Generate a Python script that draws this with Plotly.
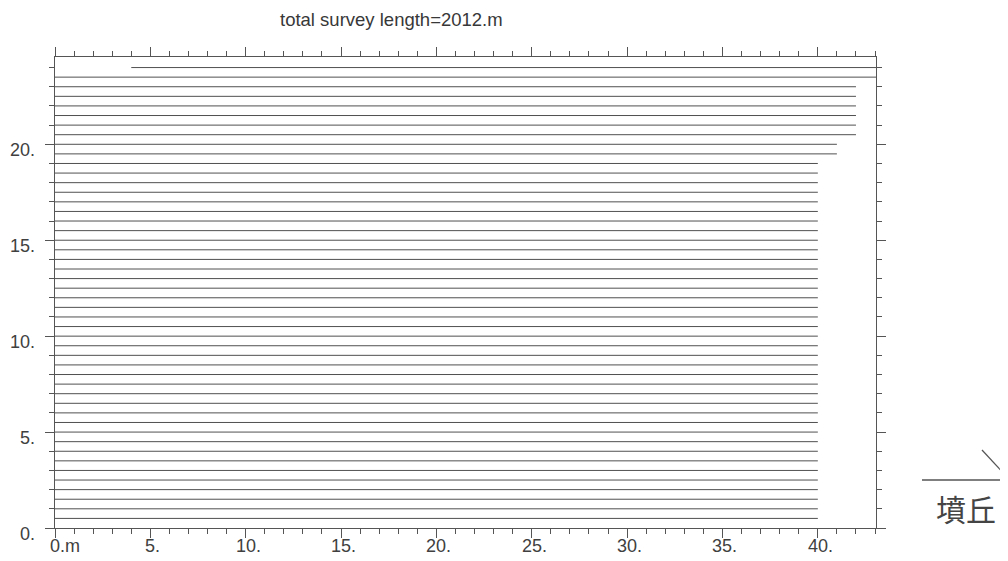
import plotly.graph_objects as go

# ---- data ----
title_text = "total survey length=2012.m"
line_y = [0.5 * k for k in range(1, 49)]          # survey line positions (m)
line_x_start = [0.0] * 47 + [4.0]
line_x_end = ([40.0] * 38) + ([41.0] * 2) + ([42.0] * 6) + [43.05, 43.3]
x_tick_vals = [0, 5, 10, 15, 20, 25, 30, 35, 40]
x_tick_text = ["0.m", "5.", "10.", "15.", "20.", "25.", "30.", "35.", "40."]
y_tick_vals = [0, 5, 10, 15, 20]
y_tick_text = ["0.", "5.", "10.", "15.", "20."]
mound_label = "墳丘"

X_RANGE = [0, 43.05]
Y_RANGE = [0, 24.55]

# page body has an 8px margin, so the figure is drawn from (8, 8)
OFF = 8
W, H = 1008 - OFF, 561 - OFF
PL, PR, PT, PB = 55, 876, 57, 528          # plot area in window pixels
PW, PH = PR - PL, PB - PT

xs, ys = [], []
for y, x0, x1 in zip(line_y, line_x_start, line_x_end):
    xs += [x0, x1, None]
    ys += [y, y, None]

fig = go.Figure()
fig.add_trace(go.Scatter(x=xs, y=ys, mode="lines",
                         line=dict(color="#505050", width=1),
                         hoverinfo="skip", showlegend=False))

axis_common = dict(showline=True, linecolor="#555555", linewidth=1.2,
                   mirror="ticks", ticks="outside", ticklen=9, tickwidth=1.1,
                   tickcolor="#555555", showgrid=False, zeroline=False,
                   showticklabels=False,
                   minor=dict(ticks="outside", ticklen=5, dtick=1,
                              tickcolor="#555555", tickwidth=1, showgrid=False))

fig.update_xaxes(range=X_RANGE, tickvals=x_tick_vals, **axis_common)
fig.update_yaxes(range=Y_RANGE, tickvals=y_tick_vals, **axis_common)

FS = 18
font_lbl = dict(family="Liberation Sans, Arial, sans-serif", size=FS, color="#404040")
digit_w = 0.556 * FS

annotations = []
for v, t in zip(x_tick_vals, x_tick_text):
    nd = len(t.split(".")[0])
    annotations.append(dict(x=v, xref="x", y=0, yref="paper", text=t,
                            showarrow=False, xanchor="left", yanchor="top",
                            xshift=-nd * digit_w / 2 - 2, yshift=-6, font=font_lbl))
for v, t in zip(y_tick_vals, y_tick_text):
    annotations.append(dict(x=0, xref="paper", y=v, yref="y", text=t,
                            showarrow=False, xanchor="right", yanchor="middle",
                            xshift=-18, yshift=-6, font=font_lbl))

# title: top of its box at the top edge of the figure
annotations.append(dict(x=(391.5 - PL) / PW, xref="paper", y=1, yref="paper", text=title_text,
                        showarrow=False, xanchor="center", yanchor="top",
                        yshift=PT - OFF, borderpad=0,
                        font=dict(family="Liberation Sans, Arial, sans-serif",
                                  size=18.5, color="#383838")))

annotations.append(dict(x=(966 - PL) / PW, xref="paper", y=(PB - 508) / PH, yref="paper",
                        text=mound_label, showarrow=False, xanchor="center", yanchor="middle",
                        font=dict(family="Noto Sans CJK JP", size=30, color="#444444")))

shapes = [
    dict(type="line", xref="paper", yref="paper",
         x0=(922 - PL) / PW, x1=(1010 - PL) / PW,
         y0=(PB - 480) / PH, y1=(PB - 480) / PH,
         line=dict(color="#555555", width=1.3)),
    dict(type="line", xref="paper", yref="paper",
         x0=(982 - PL) / PW, x1=(1008 - PL) / PW,
         y0=(PB - 450) / PH, y1=(PB - 478) / PH,
         line=dict(color="#555555", width=1.3)),
]

fig.update_layout(width=W, height=H,
                  margin=dict(l=PL - OFF, r=1008 - PR, t=PT - OFF, b=561 - PB),
                  paper_bgcolor="white", plot_bgcolor="white",
                  annotations=annotations, shapes=shapes, showlegend=False)

fig.write_html("out.html")
